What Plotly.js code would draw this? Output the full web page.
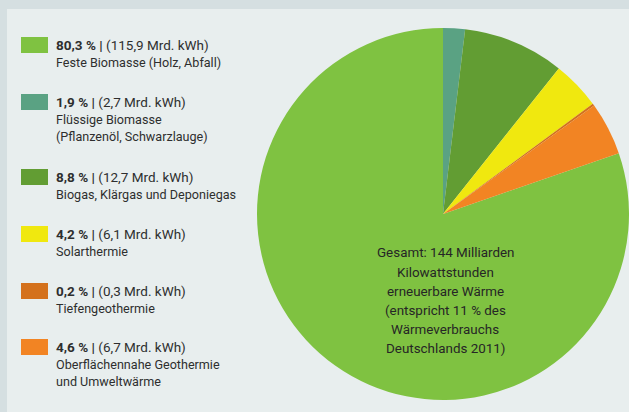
<!DOCTYPE html>
<html><head><meta charset="utf-8">
<script src="https://cdn.plot.ly/plotly-3.0.1.min.js"></script>
<style>html,body{margin:0;padding:0;background:#d5dfe1;}#chart{width:629px;height:412px;}</style>
</head><body><div id="chart"></div>
<script>
// Data (order as drawn clockwise starting with Feste Biomasse)
const categories = ["Feste Biomasse (Holz, Abfall)", "Flüssige Biomasse (Pflanzenöl, Schwarzlauge)", "Biogas, Klärgas und Deponiegas", "Solarthermie", "Tiefengeothermie", "Oberflächennahe Geothermie und Umweltwärme"];
const percentValues = [80.3, 1.9, 8.8, 4.2, 0.2, 4.6];
const kwhValues = [115.9, 2.7, 12.7, 6.1, 0.3, 6.7];
const pctLabels = ["80,3 %", "1,9 %", "8,8 %", "4,2 %", "0,2 %", "4,6 %"];
const kwhLabels = ["(115,9 Mrd. kWh)", "(2,7 Mrd. kWh)", "(12,7 Mrd. kWh)", "(6,1 Mrd. kWh)", "(0,3 Mrd. kWh)", "(6,7 Mrd. kWh)"];
const nameLines = [["Feste Biomasse (Holz, Abfall)"], ["Flüssige Biomasse", "(Pflanzenöl, Schwarzlauge)"], ["Biogas, Klärgas und Deponiegas"], ["Solarthermie"], ["Tiefengeothermie"], ["Oberflächennahe Geothermie", "und Umweltwärme"]];
const colors = ["#7fc241", "#5aa283", "#629d33", "#f0e80f", "#d4711c", "#f28423"];
const centerLines = ["Gesamt: 144 Milliarden", "Kilowattstunden", "erneuerbare Wärme", "(entspricht 11 % des", "Wärmeverbrauchs", "Deutschlands 2011)"];

const W = 629, H = 412;
const px = x => x / W, py = y => 1 - y / H;
const FONT = "Roboto, 'Liberation Sans', sans-serif";
const TXT = "#2e2e2e";

const shapes = [{type: "rect", xref: "paper", yref: "paper", x0: px(7), x1: 1.01, y0: -0.01, y1: py(9), fillcolor: "#e8eeee", line: {width: 0}, layer: "below"}];
const annotations = [];
const swatchTops = [37, 94, 169, 226, 283, 339];
categories.forEach((c, i) => {
  const t = swatchTops[i];
  shapes.push({type: "rect", xref: "paper", yref: "paper", x0: px(21), x1: px(48), y0: py(t + 16), y1: py(t), fillcolor: colors[i], line: {width: 0}});
  const first = "<b>" + pctLabels[i] + "\u00a0|</b>\u00a0" + "<span style='font-size:13.5px'>" + kwhLabels[i] + "</span>";
  annotations.push({xref: "paper", yref: "paper", x: px(54), y: py(t + 8), xanchor: "left", yanchor: "middle", text: first, showarrow: false, font: {family: FONT, size: 13.5, color: TXT}});
  nameLines[i].forEach((l, j) => {
    annotations.push({xref: "paper", yref: "paper", x: px(54), y: py(t + 8 + (j + 1) * 17.3), xanchor: "left", yanchor: "middle", text: l, showarrow: false, font: {family: FONT, size: 12.6, color: TXT}});
  });
});
centerLines.forEach((l, j) => {
  annotations.push({xref: "paper", yref: "paper", x: px(445), y: py(253 + j * 19), xanchor: "center", yanchor: "middle", text: l, showarrow: false, font: {family: FONT, size: 13.4, color: "#262626"}});
});

const startRot = (100 - percentValues[0]) / 100 * 360; // Feste begins after the small slices
const data = [{
  type: "pie", labels: categories, values: percentValues, sort: false, direction: "clockwise",
  rotation: startRot, marker: {colors: colors, line: {width: 0}}, textinfo: "none", hoverinfo: "label+percent",
  domain: {x: [px(257), 1], y: [py(400), py(28)]}, showlegend: false
}];
const layout = {width: W, height: H, margin: {l: 0, r: 0, t: 0, b: 0}, paper_bgcolor: "#d5dfe1", plot_bgcolor: "rgba(0,0,0,0)", shapes, annotations, showlegend: false};
Plotly.newPlot("chart", data, layout, {displayModeBar: false, staticPlot: true});
</script></body></html>
